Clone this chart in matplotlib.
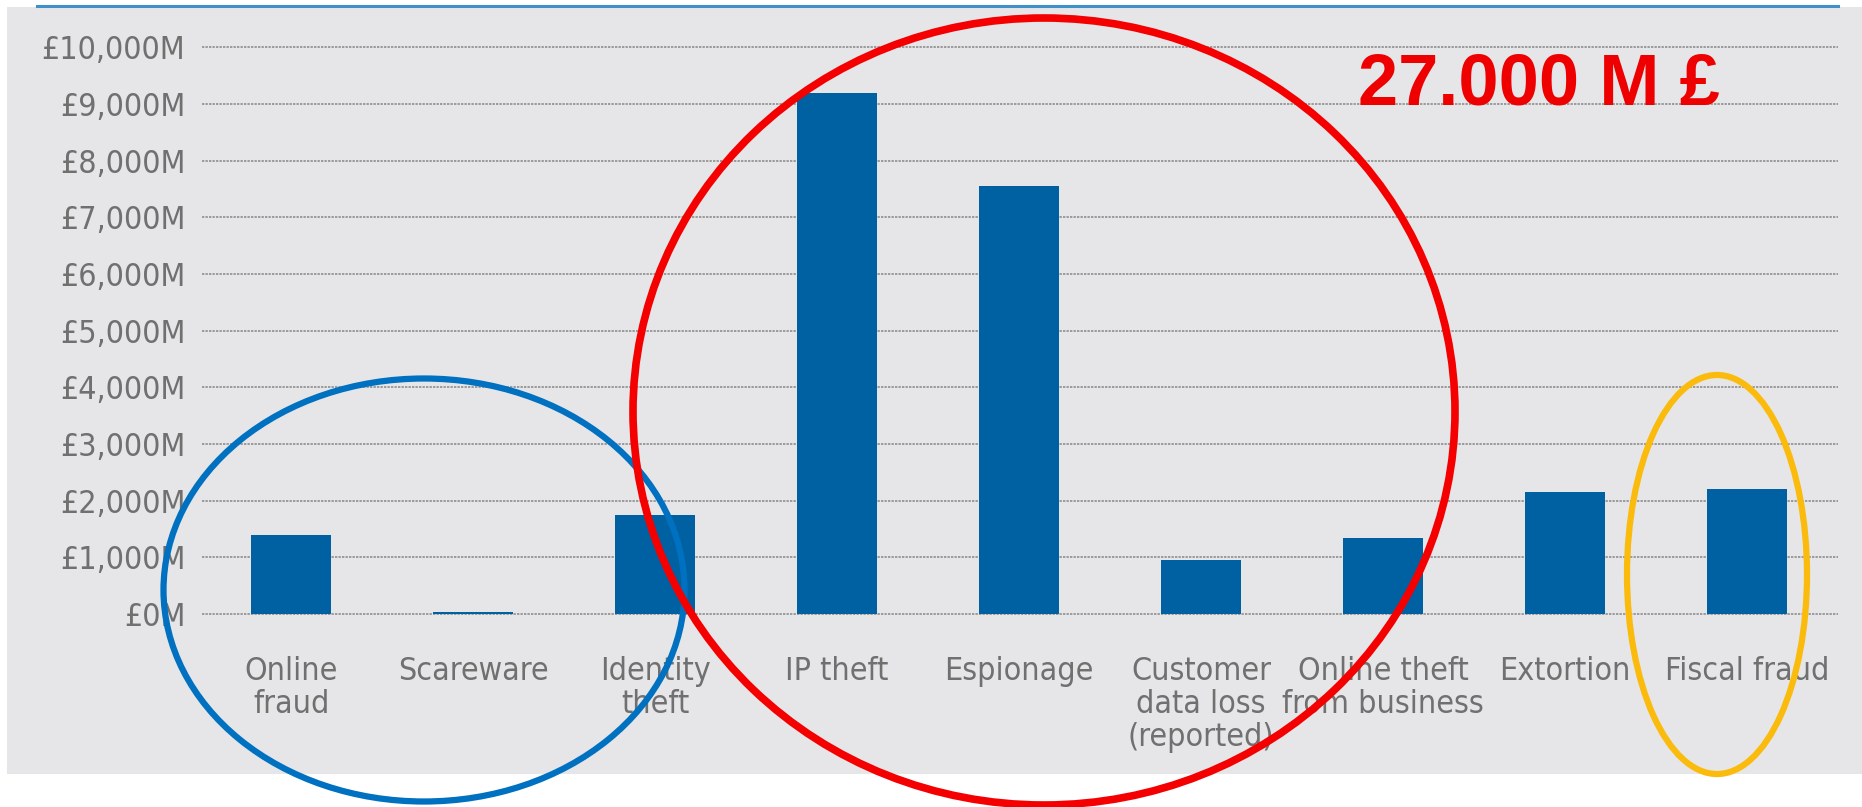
import matplotlib
matplotlib.use('Agg')
import matplotlib.pyplot as plt
from matplotlib.patches import Ellipse, Rectangle
from matplotlib.lines import Line2D
from matplotlib.ticker import FuncFormatter

categories = ['Online\nfraud', 'Scareware', 'Identity\ntheft', 'IP theft', 'Espionage',
              'Customer\ndata loss\n(reported)', 'Online theft\nfrom business', 'Extortion',
              'Fiscal fraud']
cost_m = [1400, 30, 1750, 9200, 7550, 950, 1350, 2150, 2200]
y_ticks = [0, 1000, 2000, 3000, 4000, 5000, 6000, 7000, 8000, 9000, 10000]
total_label = '27.000 M £'

W, H = 1862, 807
grey_text = '#707070'

fig = plt.figure(figsize=(W / 100, H / 100), dpi=100)

# grey panel behind the chart and the thin blue rule on top
fig.patches.append(Rectangle((7 / W, 1 - 774 / H), 1 - 7 / W, (774 - 7) / H,
                             transform=fig.transFigure, facecolor='#e6e6e8',
                             edgecolor='none', zorder=-1))
fig.add_artist(Line2D([37 / W, 1838 / W], [1 - 6 / H, 1 - 6 / H], transform=fig.transFigure,
                      color='#3f8fc8', lw=2.2))

ax = fig.add_axes([202 / W, 1 - 614 / H, (1838 - 202) / W, (614 - 47.5) / H])
ax.set_zorder(1)
ax.set_facecolor('none')
x = list(range(len(categories)))
ax.bar(x, cost_m, width=0.44, color='#0061a2', zorder=3)

ax.set_xlim(-0.49, 8.5)
ax.set_ylim(0, 10000)
ax.set_yticks(y_ticks)
ax.yaxis.set_major_formatter(FuncFormatter(lambda v, p: f'£{int(v):,}M'))
ax.set_xticks(x)
ax.set_xticklabels(categories, linespacing=1.08)
for lab in ax.get_xticklabels() + ax.get_yticklabels():
    lab.set_family('DejaVu Sans')
    lab.set_stretch('condensed')
    lab.set_color(grey_text)
    lab.set_fontsize(23)
ax.tick_params(axis='x', length=0, pad=30)
ax.tick_params(axis='y', length=0, pad=12)
ax.grid(axis='y', color='#9a9a9a', lw=1.4, ls=(0, (1.2, 0.6)), zorder=1)
for gl in ax.get_ygridlines():
    gl.set_clip_on(False)
for s in ax.spines.values():
    s.set_visible(False)

# hand-drawn highlight circles
fig.add_artist(Ellipse((424 / W, 1 - 590 / H), 521 / W, 423 / H, transform=fig.transFigure,
                       fill=False, edgecolor='#0070c0', lw=4.5, zorder=5))
fig.add_artist(Ellipse((1044 / W, 1 - 411.5 / H), 822 / W, 787 / H, transform=fig.transFigure,
                       fill=False, edgecolor='#f40000', lw=5.5, zorder=5))
fig.add_artist(Ellipse((1717 / W, 1 - 574.5 / H), 180 / W, 399 / H, transform=fig.transFigure,
                       fill=False, edgecolor='#fbbb0c', lw=4.5, zorder=5))

fig.text(1539 / W, 1 - 104.5 / H, total_label, ha='center', va='baseline', color='#ee0000',
         fontsize=52, fontweight='bold', family=['Liberation Sans', 'DejaVu Sans'], zorder=6)

fig.savefig('out.png', dpi=100)
